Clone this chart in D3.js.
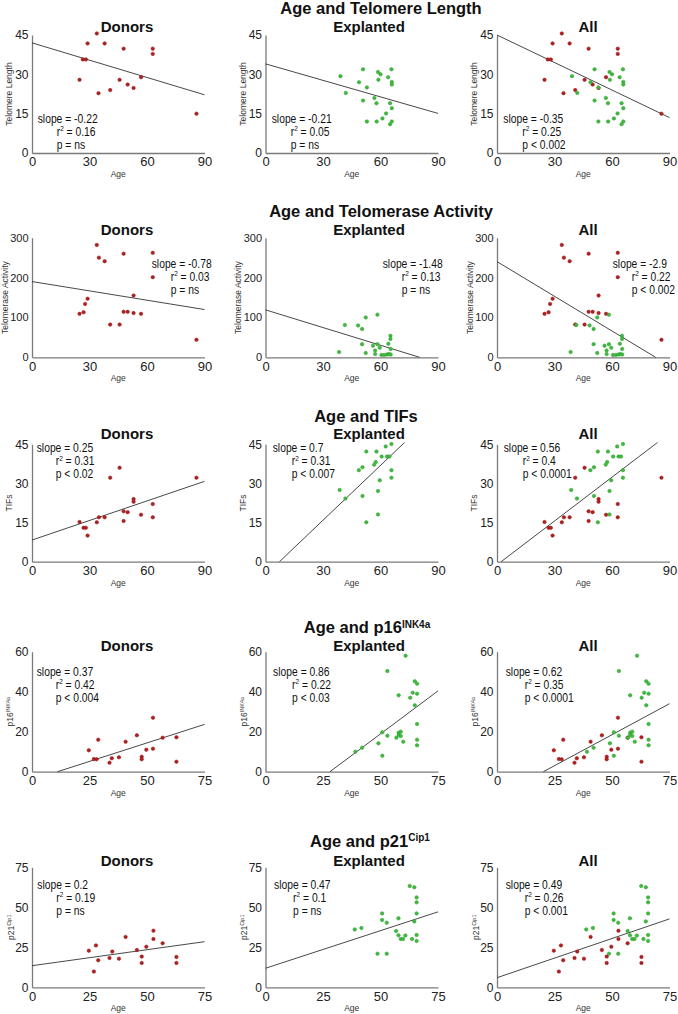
<!DOCTYPE html>
<html><head><meta charset="utf-8">
<script src="https://cdn.jsdelivr.net/npm/d3@7"></script>
<style>
body{margin:0;background:#fff}
svg{display:block}
text{font-family:"Liberation Sans",Arial,sans-serif;fill:#111}
</style>
</head><body>
<svg id="c" width="678" height="1014"></svg>
<script>
// ---------------- DATA ----------------
const rowTitles = [["Age and Telomere Length",""],["Age and Telomerase Activity",""],["Age and TIFs",""],["Age and p16","INK4a"],["Age and p21","Cip1"]];
const panelTitles = ["Donors","Explanted","All"];
const yLabels = [["Telomere Length",""],["Telomerase Activity",""],["TIFs",""],["p16","INK4a"],["p21","Cip1"]];
const xLabel = "Age";
const xMaxes = [90,90,90,75,75];
const yMaxes = [45,300,45,60,75];
const xTicks = [[0,30,60,90],[0,30,60,90],[0,30,60,90],[0,25,50,75],[0,25,50,75]];
const yTicks = [[0,15,30,45],[0,100,200,300],[0,15,30,45],[0,20,40,60],[0,25,50,75]];

// [age, value]
const tlDonors = [[33.8,45.6],[29.0,41.8],[37.9,41.8],[47.8,39.8],[63.0,39.8],[63.0,37.8],[26.5,35.7],[28.1,35.7],[24.8,27.9],[45.7,27.9],[56.9,28.9],[34.7,22.8],[40.8,24.0],[49.9,26.1],[53.0,24.8],[85.8,15.0]];
const tlExplanted = [[50.9,31.9],[65.7,31.9],[58.7,30.9],[60.0,30.0],[39.1,29.3],[64.0,28.9],[58.9,27.9],[48.8,27.0],[65.9,27.1],[65.9,26.1],[52.9,25.0],[41.9,22.9],[56.8,21.0],[50.9,20.0],[57.9,19.0],[65.0,19.0],[65.9,17.1],[62.9,15.1],[61.0,13.2],[52.9,12.0],[58.0,12.0],[65.9,12.0],[65.0,11.0]];

const taDonors = [[33.8,282],[34.9,250],[37.9,241],[47.8,260],[63.0,262],[63.0,201],[53.0,155],[29.0,147],[27.7,134],[26.9,113],[24.8,109],[47.8,114],[49.9,114],[53.0,111],[56.9,109],[40.8,82],[45.7,82],[85.8,44]];
const taExplanted = [[58.4,107],[52.3,100],[41.4,81],[48.3,80],[50.4,71],[65.2,54],[65.2,46],[50.4,33],[58.4,33],[56.1,29],[64.1,34],[59.6,24],[65.3,21],[57.2,17],[38.4,13],[52.3,11],[57.2,8],[60.5,6],[62.0,6],[63.4,7],[64.3,8],[65.3,7]];

const tifDonors = [[45.7,36.0],[40.8,32.2],[85.8,32.2],[53.0,24.0],[53.0,23.0],[63.0,22.1],[47.8,19.3],[49.9,19.0],[56.9,18.0],[63.0,17.0],[34.9,17.0],[37.9,17.0],[47.8,15.6],[24.8,15.2],[33.8,15.1],[26.9,13.0],[28.1,13.0],[29.0,10.0]];
const tifExplanted = [[65.7,45.1],[62.7,44.2],[52.6,42.2],[57.9,42.2],[60.6,40.3],[63.4,40.3],[64.7,40.3],[57.5,38.2],[56.7,37.2],[50.6,36.2],[48.7,35.1],[65.7,35.1],[59.6,31.2],[65.7,32.2],[38.7,27.5],[58.7,27.1],[50.6,25.2],[41.7,24.2],[58.7,18.1],[52.6,15.1]];

const p16Donors = [[52.6,27.0],[45.6,18.2],[56.8,17.0],[62.8,17.2],[28.8,16.0],[40.7,15.0],[24.7,10.7],[52.6,11.5],[49.7,11.0],[47.7,7.5],[47.7,6.2],[37.8,7.2],[34.7,6.7],[26.9,6.3],[28.1,6.2],[33.7,4.5],[62.8,5.0]];
const p16Explanted = [[60.9,58.0],[53.0,50.3],[64.9,45.2],[65.9,44.0],[64.0,39.5],[65.9,39.0],[57.9,38.2],[62.9,37.0],[64.9,33.2],[65.9,23.8],[50.8,19.7],[53.0,18.0],[57.9,19.5],[58.8,20.0],[57.9,18.3],[56.9,17.0],[58.8,17.8],[59.9,15.0],[65.9,16.0],[49.1,14.2],[42.0,12.0],[39.1,10.0],[65.9,13.2],[50.8,8.0]];

const p21Donors = [[52.8,35.4],[52.8,30.2],[40.7,31.5],[56.8,27.5],[27.8,26.2],[24.7,22.9],[34.9,22.3],[45.6,23.3],[49.7,25.4],[62.8,19.0],[47.7,19.2],[33.7,18.3],[37.8,17.9],[28.8,16.9],[47.7,15.2],[62.8,15.2],[26.9,9.8]];
const p21Explanted = [[62.7,63.3],[64.7,62.5],[65.7,56.2],[65.7,53.1],[50.7,46.2],[65.7,46.2],[50.7,42.1],[57.8,43.1],[52.7,40.4],[64.7,41.2],[38.8,36.2],[41.7,37.1],[56.8,35.2],[57.8,32.5],[58.8,30.2],[59.8,30.2],[60.8,32.3],[63.7,30.2],[65.7,32.7],[65.7,29.0],[48.7,21.0],[52.7,21.0]];

const donorSets = [tlDonors, taDonors, tifDonors, p16Donors, p21Donors];
const explantedSets = [tlExplanted, taExplanted, tifExplanted, p16Explanted, p21Explanted];

// regression: [Donors, Explanted, All]
const slopes = [[-0.22,-0.21,-0.35],[-0.78,-1.48,-2.9],[0.25,0.7,0.56],[0.37,0.86,0.62],[0.2,0.47,0.49]];
const intercepts = [[42,34,45],[190,119,240],[8.3,-5.1,-1.2],[-4.1,-24.1,-12.5],[13.5,11.9,6]];
const r2s = [["0.16","0.05","0.25"],["0.03","0.13","0.22"],["0.31","0.31","0.4"],["0.42","0.22","0.35"],["0.19","0.1","0.26"]];
const pvals = [["p = ns","p = ns","p < 0.002"],["p = ns","p = ns","p < 0.002"],["p < 0.02","p < 0.007","p < 0.0001"],["p < 0.004","p < 0.03","p < 0.0001"],["p = ns","p = ns","p < 0.001"]];

// ---------------- LAYOUT ----------------
const panelLeft = [32, 265.5, 497], panelW = 172.5;
const rowTop = [35, 237.7, 444.3, 651.7, 867.3];
const rowBottom = [153, 357.3, 561.7, 771.7, 987.3];
const titleX = [381, 381, 366, 367, 370];
const titleY = [13.5, 216.7, 422.3, 633.3, 846.7];
const subX = [127, 369, 588];
const subY = [31.7, 235, 439, 651, 865.7];
const yLabelOff = [20, 24.5, 20, 19, 18.5];
const yTickFont = [12, 11, 12, 12, 12];
const statPos = [
  [[5.7,87.7],[6.2,87.7],[6.3,87.7]],
  [[119.7,30],[117.2,30],[115.7,30]],
  [[4.7,8],[7.2,8],[6.7,8]],
  [[4.7,24.3],[7.6,24.3],[8.7,24.3]],
  [[5.3,21.7],[8.6,21.7],[8.7,21.7]]
];
const RED = "#b3201f", GREEN = "#3fbb3f", GREEN_S = "#2a9a2a";
const FONT = "'Liberation Sans', Arial, sans-serif";
const SQUEEZE = 0.86;

const svg = d3.select("#c");

rowTitles.forEach((rt, i) => {
  const t = svg.append("text").attr("x", titleX[i]).attr("y", titleY[i])
    .attr("text-anchor", "middle").style("font-weight", "bold").style("font-size", "16.5px");
  t.append("tspan").text(rt[0]);
  if (rt[1]) t.append("tspan").attr("dy", -5.5).style("font-size", "10px").text(rt[1]);

  const T = rowTop[i], B = rowBottom[i];
  const donors = donorSets[i], expl = explantedSets[i];
  const sets = [
    donors.map(d => ({a: d[0], v: d[1], g: 0})),
    expl.map(d => ({a: d[0], v: d[1], g: 1})),
    donors.map(d => ({a: d[0], v: d[1], g: 0})).concat(expl.map(d => ({a: d[0], v: d[1], g: 1})))
  ];

  panelTitles.forEach((pt, j) => {
    const L = panelLeft[j];
    const x = d3.scaleLinear().domain([0, xMaxes[i]]).range([L, L + panelW]);
    const y = d3.scaleLinear().domain([0, yMaxes[i]]).range([B, T]);
    const g = svg.append("g");

    g.append("text").attr("x", subX[j]).attr("y", subY[i]).attr("text-anchor", "middle")
      .style("font-weight", "bold").style("font-size", "15px").text(pt);

    const xa = g.append("g").attr("transform", `translate(0,${B})`)
      .call(d3.axisBottom(x).tickValues(xTicks[i]).tickSize(0).tickSizeOuter(0).tickPadding(4).tickFormat(d3.format("d")));
    const ya = g.append("g").attr("transform", `translate(${L},0)`)
      .call(d3.axisLeft(y).tickValues(yTicks[i]).tickSize(0).tickSizeOuter(0).tickPadding(3.5).tickFormat(d3.format("d")));
    [xa, ya].forEach(a => {
      a.attr("font-family", FONT);
      a.select(".domain").attr("stroke", "#7a7a7a").attr("stroke-width", 1.3);
      a.selectAll("text").style("fill", "#222");
    });
    xa.selectAll("text").style("font-size", "13px");
    ya.selectAll("text").style("font-size", yTickFont[i] + "px");

    // axis labels
    g.append("text").attr("x", L + panelW / 2).attr("y", B + 24).attr("text-anchor", "middle")
      .style("font-size", "8.5px").style("fill", "#333").text(xLabel);
    const yl = g.append("text").attr("transform", `translate(${L - yLabelOff[i]},${(T + B) / 2}) rotate(-90)`)
      .attr("text-anchor", "middle").style("font-size", "8.5px").style("fill", "#333");
    yl.append("tspan").text(yLabels[i][0]);
    if (yLabels[i][1]) yl.append("tspan").attr("dy", -3).style("font-size", "5.5px").text(yLabels[i][1]);

    // regression line
    const m = slopes[i][j], b = intercepts[i][j];
    const f = a => m * a + b;
    let a0 = 0, a1 = xMaxes[i];
    if (f(a0) < 0) a0 = -b / m;
    if (f(a0) > yMaxes[i]) a0 = (yMaxes[i] - b) / m;
    if (f(a1) < 0) a1 = -b / m;
    if (f(a1) > yMaxes[i] * 1.015) a1 = (yMaxes[i] * 1.015 - b) / m;
    g.append("line").attr("x1", x(a0)).attr("y1", y(f(a0))).attr("x2", x(a1)).attr("y2", y(f(a1)))
      .attr("stroke", "#333").attr("stroke-width", 0.9);

    // dots
    g.selectAll("circle.d").data(sets[j]).enter().append("circle")
      .attr("cx", d => x(d.a)).attr("cy", d => y(d.v)).attr("r", 1.75)
      .attr("fill", d => d.g ? GREEN : RED)
      .attr("stroke", d => d.g ? GREEN_S : "#8e1515").attr("stroke-width", 0.5);

    // stats (condensed text)
    const sx = L + statPos[i][j][0], sy = T + statPos[i][j][1];
    const st = g.append("g").attr("transform", `translate(${sx},${sy}) scale(${SQUEEZE},1)`)
      .style("font-size", "12px");
    st.append("text").attr("x", 0).attr("y", 0).text("slope = " + m);
    const r2t = st.append("text").attr("x", 19 / SQUEEZE).attr("y", 13);
    r2t.append("tspan").text("r");
    r2t.append("tspan").attr("dy", -4.5).style("font-size", "7.5px").text("2");
    r2t.append("tspan").attr("dy", 4.5).text(" = " + r2s[i][j]);
    st.append("text").attr("x", 19 / SQUEEZE).attr("y", 26).text(pvals[i][j]);
  });
});
</script>
</body></html>
